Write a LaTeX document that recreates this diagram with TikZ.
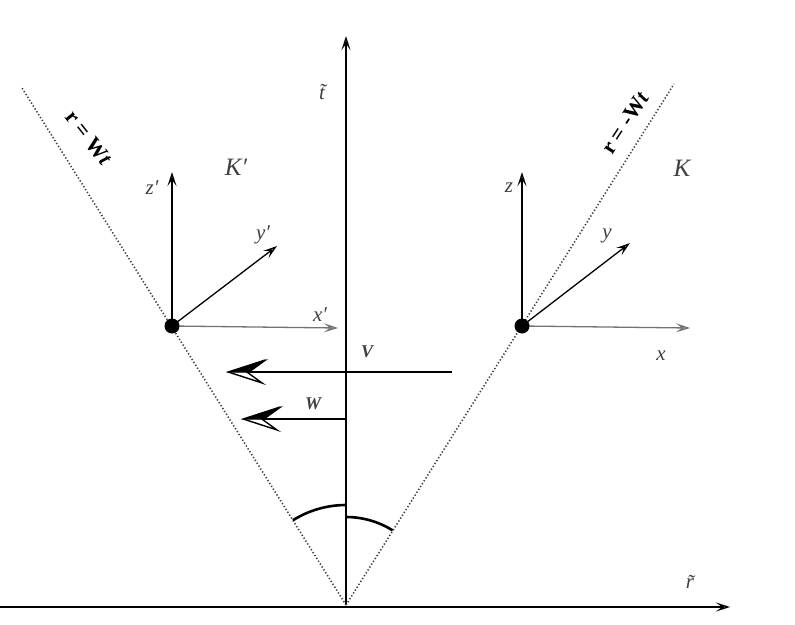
\documentclass[tikz,border=0pt]{standalone}
\usepackage{fontspec}
\setmainfont{Liberation Serif}
\usetikzlibrary{arrows.meta}
\begin{document}
\begin{tikzpicture}[x=1pt,y=-1pt,
  ax/.style={line width=1.3pt,-{Stealth[length=14pt,width=9pt,open,inset=6pt]}},
  gax/.style={ax,draw=black!55},
  vel/.style={line width=2.8pt,-{Stealth[length=40pt,width=26pt,open,inset=18pt,line width=1.4pt]}},
  velfill/.style={line width=2.8pt,-{Stealth[length=40pt,width=26pt,inset=18pt,harpoon,swap,line width=1.4pt]}},
  lcone/.style={line width=1.6pt,black!75,dash pattern=on 1.3pt off 2.1pt},
  dot/.style={circle,fill=black,inner sep=0pt,minimum size=15pt},
  lbl/.style={font=\itshape\fontsize{21}{21}\selectfont,text=black!75},
  klbl/.style={font=\itshape\fontsize{25}{25}\selectfont,text=black!75},
  conelbl/.style={font=\bfseries\fontsize{22}{22}\selectfont},
  vlbl/.style={font=\bfseries\itshape\fontsize{18}{18}\selectfont,text=black!75}]
\useasboundingbox (0,0) rectangle (795,624);
% main axes
\coordinate (O) at (346,605);
\coordinate (hl) at (0,607);
\coordinate (hr) at (730,607);
\coordinate (vt) at (346,36);
\draw[ax] (hl) -- (hr);
\draw[ax] (O) -- (vt);
\node[lbl] (rt) at (690,582) {\~{r}};
\node[lbl] (tt) at (322,92) {\~{t}};
% light cone lines
\coordinate (Lend) at (22,88);
\coordinate (Rend) at (674,84);
\draw[lcone] (O) -- (Lend);
\draw[lcone] (O) -- (Rend);
\node[conelbl,rotate=-52] (lcl) at (89,138) {r = W\textit{t}};
\node[conelbl,rotate=57] (rcl) at (625,123) {r = -W\textit{t}};
% left frame K'
\coordinate (Lo) at (172,326);
\coordinate (Lz) at (172,172);
\coordinate (Ly) at (277,246);
\coordinate (Lx) at (338,328);
\draw[ax] (Lo) -- (Lz);
\draw[ax] (Lo) -- (Ly);
\draw[gax] (Lo) -- (Lx);
\node[dot] (Lp) at (Lo) {};
\node[lbl] (Lzl) at (152,188) {z′};
\node[lbl] (Lyl) at (263,235) {y′};
\node[lbl] (Lxl) at (320,315) {x′};
\node[klbl] (Kp) at (236,167) {K′};
% right frame K
\coordinate (Ro) at (522,326);
\coordinate (Rz) at (522,172);
\coordinate (Ry) at (630,243);
\coordinate (Rx) at (690,328);
\draw[ax] (Ro) -- (Rz);
\draw[ax] (Ro) -- (Ry);
\draw[gax] (Ro) -- (Rx);
\node[dot] (Rp) at (Ro) {};
\node[lbl] (Rzl) at (509,188) {z};
\node[lbl] (Ryl) at (607,236) {y};
\node[lbl] (Rxl) at (661,356) {x};
\node[klbl] (K) at (682,168) {K};
% velocities
\coordinate (Vs) at (452,372);
\coordinate (Ve) at (226,372);
\coordinate (Ws) at (346,419);
\coordinate (We) at (241,419);
\draw[vel] (Vs) -- (Ve);
\draw[velfill] (Vs) -- (Ve);
\draw[vel] (Ws) -- (We);
\draw[velfill] (Ws) -- (We);
\node[vlbl] (Vl) at (367,352) {V};
\node[vlbl] (Wl) at (313,404) {W};
% angle arcs
\draw[line width=2.6pt] (346,505) arc[start angle=-90,end angle=-122,radius=100];
\draw[line width=2.6pt] (346,517) arc[start angle=-90,end angle=-58,radius=88];
\end{tikzpicture}
\end{document}
